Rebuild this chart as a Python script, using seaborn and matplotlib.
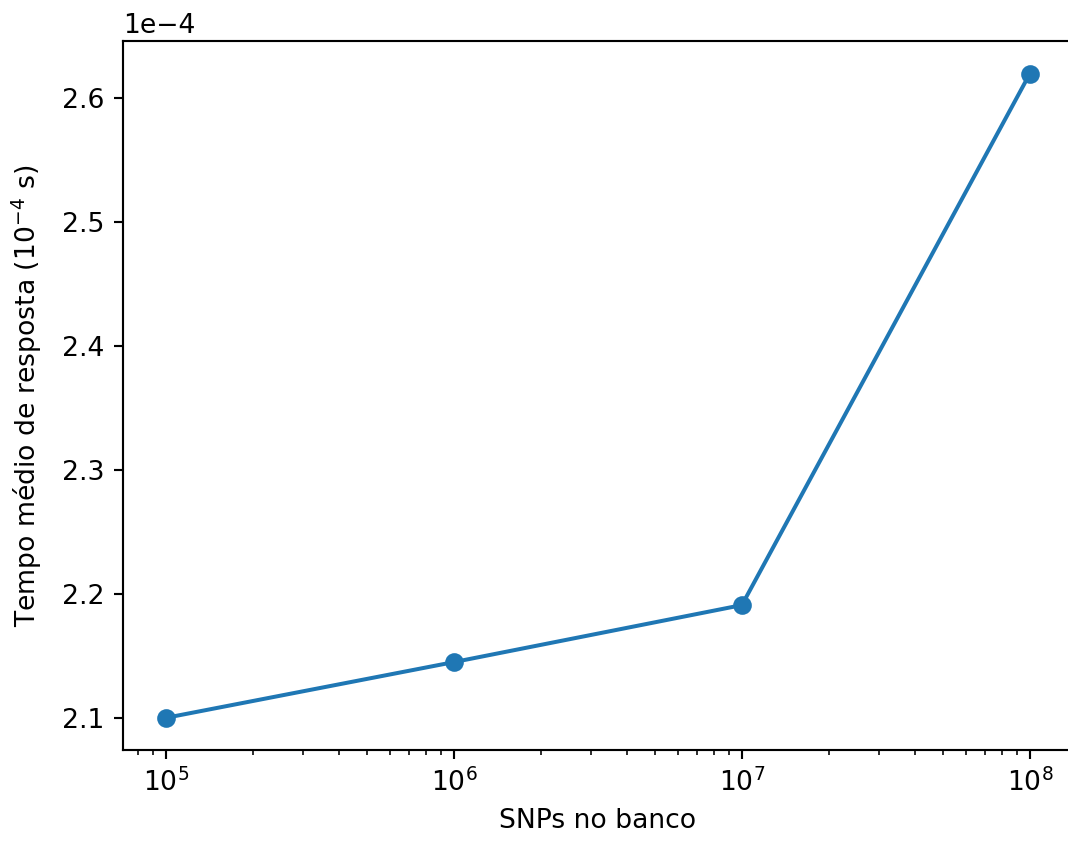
import matplotlib
matplotlib.use("Agg")
import matplotlib.pyplot as plt
import pandas as pd
import seaborn as sns

# Mean query response time versus number of SNPs stored in the database
snps = [1e5, 1e6, 1e7, 1e8]
tempo = [2.100e-4, 2.145e-4, 2.191e-4, 2.620e-4]

df = pd.DataFrame({"snps": snps, "tempo": tempo})

dpi = 192
fig = plt.figure(figsize=(1068 / dpi, 845 / dpi), dpi=dpi)
ax = fig.add_axes([0.1150, 0.1124, 0.8897, 0.8385])

sns.lineplot(data=df, x="snps", y="tempo", ax=ax, color="#1f77b4",
             marker="o", markersize=6, markeredgecolor="#1f77b4",
             markeredgewidth=1, linewidth=1.5)

ax.set_xscale("log")
ax.ticklabel_format(axis="y", style="sci", scilimits=(0, 0), useOffset=False)
ax.spines["right"].set_visible(False)
ax.set_xlabel("SNPs no banco")
ax.set_ylabel("Tempo médio de resposta ($10^{-4}$ s)", labelpad=6.5)

fig.savefig("out.png", dpi=dpi)
